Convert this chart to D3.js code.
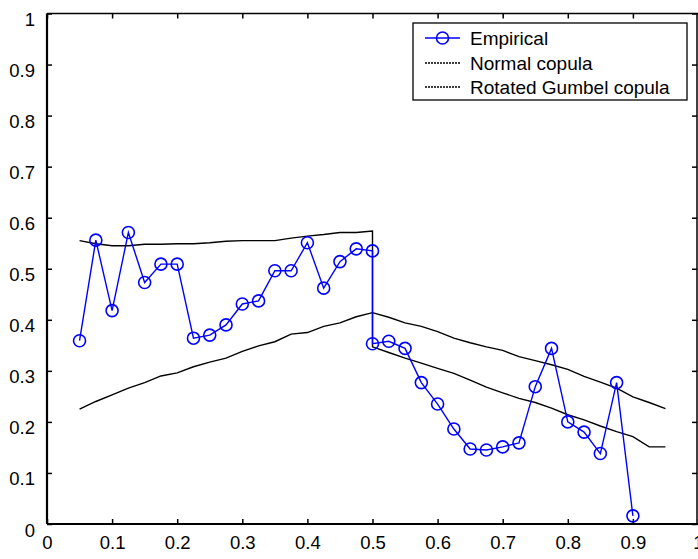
<!DOCTYPE html>
<html>
<head>
<meta charset="utf-8">
<script src="https://cdn.jsdelivr.net/npm/d3@7"></script>
<style>
  html, body { margin: 0; padding: 0; background: #fff; }
  svg { display: block; font-family: "Liberation Sans", Arial, Helvetica, sans-serif; }
</style>
</head>
<body>
<svg id="chart" width="698" height="559"></svg>
<script>
// ---- data ----
const lowerX = [0.05,0.075,0.1,0.125,0.15,0.175,0.2,0.225,0.25,0.275,0.3,0.325,0.35,0.375,0.4,0.425,0.45,0.475,0.5];
const upperX = [0.5,0.525,0.55,0.575,0.6,0.625,0.65,0.675,0.7,0.725,0.75,0.775,0.8,0.825,0.85,0.875,0.9,0.925,0.95];

const empiricalLower = [0.359,0.556,0.418,0.571,0.473,0.509,0.509,0.364,0.370,0.390,0.431,0.437,0.496,0.496,0.551,0.462,0.514,0.539,0.535];
const empiricalUpperX = [0.5,0.525,0.55,0.575,0.6,0.625,0.65,0.675,0.7,0.725,0.75,0.775,0.8,0.825,0.85,0.875,0.9];
const empiricalUpper = [0.353,0.358,0.344,0.277,0.235,0.186,0.147,0.145,0.151,0.159,0.269,0.344,0.200,0.180,0.138,0.277,0.016];

const normalLower = [0.225,0.240,0.253,0.266,0.277,0.290,0.296,0.308,0.317,0.325,0.338,0.349,0.357,0.372,0.375,0.387,0.394,0.406,0.414];
const normalUpper = [0.414,0.405,0.394,0.387,0.377,0.364,0.355,0.347,0.340,0.328,0.320,0.312,0.303,0.289,0.278,0.266,0.249,0.238,0.226];

const gumbelLower = [0.555,0.549,0.545,0.545,0.548,0.548,0.549,0.549,0.551,0.554,0.555,0.555,0.555,0.560,0.564,0.567,0.571,0.571,0.574];
const gumbelUpper = [0.347,0.336,0.325,0.315,0.305,0.295,0.282,0.268,0.257,0.246,0.238,0.227,0.214,0.204,0.192,0.181,0.171,0.151,0.151];

const xTicks = [0,0.1,0.2,0.3,0.4,0.5,0.6,0.7,0.8,0.9,1];
const yTicks = [0,0.1,0.2,0.3,0.4,0.5,0.6,0.7,0.8,0.9,1];
const xTickLabels = ["0","0.1","0.2","0.3","0.4","0.5","0.6","0.7","0.8","0.9","1"];
const yTickLabels = ["0","0.1","0.2","0.3","0.4","0.5","0.6","0.7","0.8","0.9","1"];
const legendLabels = ["Empirical","Normal copula","Rotated Gumbel copula"];

// ---- build ----
const svg = d3.select("#chart");
const x = d3.scaleLinear().domain([0,1]).range([47, 698]);
const y = d3.scaleLinear().domain([0,1]).range([524, 13.5]);

const zip = (xs, ys) => xs.map((v,i) => [v, ys[i]]);
const empirical = zip(lowerX, empiricalLower).concat(zip(empiricalUpperX, empiricalUpper));
const normal = zip(lowerX, normalLower).concat(zip(upperX, normalUpper).slice(1));
const gumbel = zip(lowerX, gumbelLower).concat(zip(upperX, gumbelUpper));

const line = d3.line().x(d => x(d[0])).y(d => y(d[1]));

const plot = svg.append("g");
plot.append("path").datum(normal).attr("d", line)
  .attr("fill","none").attr("stroke","#000").attr("stroke-width",1.4);
plot.append("path").datum(gumbel).attr("d", line)
  .attr("fill","none").attr("stroke","#000").attr("stroke-width",1.4);
plot.append("path").datum(empirical).attr("d", line)
  .attr("fill","none").attr("stroke","#0000ff").attr("stroke-width",1.4);
plot.selectAll("circle.emp").data(empirical).enter().append("circle")
  .attr("class","emp")
  .attr("cx", d => x(d[0])).attr("cy", d => y(d[1])).attr("r", 6)
  .attr("fill","none").attr("stroke","#0000ff").attr("stroke-width",1.6);

// axes
const fs = "18.5px";
const xAxisB = d3.axisBottom(x).tickValues(xTicks).tickSize(-5).tickPadding(12)
  .tickFormat((d,i) => xTickLabels[i]);
const gxb = svg.append("g").attr("transform", `translate(0,${y(0)})`).call(xAxisB);
gxb.select(".domain").remove();
gxb.selectAll("text").attr("font-size", fs).attr("font-family","Liberation Sans, Arial, sans-serif").attr("fill","#000");
gxb.selectAll("line").attr("stroke","#000").attr("stroke-width",1.5);

const xAxisT = d3.axisTop(x).tickValues(xTicks).tickSize(-5).tickFormat("");
const gxt = svg.append("g").attr("transform", `translate(0,${y(1)})`).call(xAxisT);
gxt.select(".domain").remove();
gxt.selectAll("line").attr("stroke","#000").attr("stroke-width",1.5);

const yAxisL = d3.axisLeft(y).tickValues(yTicks).tickSize(-5).tickPadding(12)
  .tickFormat((d,i) => yTickLabels[i]);
const gyl = svg.append("g").attr("transform", `translate(${x(0)},0)`).call(yAxisL);
gyl.select(".domain").remove();
gyl.selectAll("text").attr("font-size", fs).attr("font-family","Liberation Sans, Arial, sans-serif").attr("fill","#000").attr("dy","0.65em");
gyl.selectAll("line").attr("stroke","#000").attr("stroke-width",1.5);

const yAxisR = d3.axisRight(y).tickValues(yTicks).tickSize(-5).tickFormat("");
const gyr = svg.append("g").attr("transform", `translate(${x(1)-1},0)`).call(yAxisR);
gyr.select(".domain").remove();
gyr.selectAll("line").attr("stroke","#000").attr("stroke-width",1.5);

// box
svg.append("line").attr("x1", x(0)).attr("x2", x(1)).attr("y1", y(0)).attr("y2", y(0)).attr("stroke","#000").attr("stroke-width",2.2);
svg.append("line").attr("x1", x(0)).attr("x2", x(0)).attr("y1", y(0)).attr("y2", y(1)).attr("stroke","#000").attr("stroke-width",2.2);
svg.append("line").attr("x1", x(0)).attr("x2", x(1)).attr("y1", y(1)).attr("y2", y(1)).attr("stroke","#000").attr("stroke-width",1.5);
svg.append("line").attr("x1", x(1)-1).attr("x2", x(1)-1).attr("y1", y(0)).attr("y2", y(1)).attr("stroke","#000").attr("stroke-width",1.5);

// legend
const lg = svg.append("g");
lg.append("rect").attr("x",413).attr("y",23).attr("width",274).attr("height",77)
  .attr("fill","#fff").attr("stroke","#000").attr("stroke-width",1.3);
const rows = [38, 63, 87];
const colors = ["#0000ff","#000","#000"];
legendLabels.forEach((lab,i) => {
  lg.append("line").attr("x1",425).attr("x2",460).attr("y1",rows[i]).attr("y2",rows[i])
    .attr("stroke",colors[i]).attr("stroke-width",1.4).attr("stroke-dasharray", i===0 ? null : "2,1");
  if (i===0) {
    lg.append("circle").attr("cx",442.5).attr("cy",rows[i]).attr("r",6)
      .attr("fill","none").attr("stroke","#0000ff").attr("stroke-width",1.6);
  }
  lg.append("text").attr("x",470).attr("y",rows[i]).attr("dy","0.36em")
    .attr("font-size","19px").attr("fill","#000").text(lab);
});
</script>
</body>
</html>
